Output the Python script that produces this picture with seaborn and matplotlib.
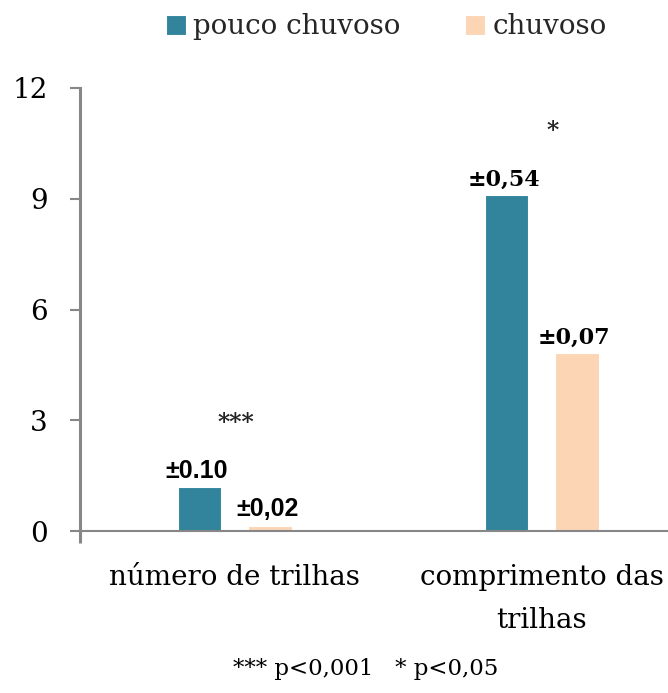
import matplotlib
matplotlib.use("Agg")
import matplotlib.pyplot as plt
import seaborn as sns
import pandas as pd

# ---- data ----
categories = ["número de trilhas", "comprimento das\ntrilhas"]
series = ["pouco chuvoso", "chuvoso"]
pouco_chuvoso = [1.18, 9.10]
chuvoso = [0.13, 4.82]
err_pouco = ["±0.10", "±0,54"]
err_chuvoso = ["±0,02", "±0,07"]
signif = ["***", "*"]
footnote = "*** p<0,001   * p<0,05"
yticks = [0, 3, 6, 9, 12]

colors = {"pouco chuvoso": "#31849B", "chuvoso": "#FCD5B5"}
gray = "#878787"

df = pd.DataFrame({
    "categoria": categories * 2,
    "periodo": [series[0]] * len(categories) + [series[1]] * len(categories),
    "valor": pouco_chuvoso + chuvoso,
})

sns.set_theme(style="white")
plt.rcParams["font.family"] = ["DejaVu Serif"]

fig = plt.figure(figsize=(6.68, 6.93), dpi=100)
ax = fig.add_axes([80 / 668, 1 - 531 / 693, 1 - 80 / 668, (531 - 88) / 693])

sns.barplot(data=df, x="categoria", y="valor", hue="periodo",
            order=categories, hue_order=series, palette=colors,
            saturation=1, width=0.46, gap=0.383, edgecolor="white",
            linewidth=0.8, ax=ax)

ax.set_xlim(-0.5045, 1.411)
ax.set_ylim(0, 12)
ax.set_yticks(yticks)
ax.set_yticklabels([str(t) for t in yticks])
ax.set_xlabel("")
ax.set_ylabel("")

for s in ["top", "right"]:
    ax.spines[s].set_visible(False)
ax.spines["left"].set_color(gray)
ax.spines["left"].set_linewidth(2.2)
ax.spines["bottom"].set_color(gray)
ax.spines["bottom"].set_linewidth(1.5)

ax.tick_params(axis="y", which="major", left=True, direction="out", length=7.2,
               width=1.5, color=gray, pad=16, labelsize=20, labelcolor="black")
ax.tick_params(axis="x", which="major", length=0, pad=24, labelsize=20,
               labelcolor="black")
ax.set_xticks([-0.5045], minor=True)
ax.tick_params(axis="x", which="minor", bottom=True, direction="out",
               length=8.5, width=2.2, color=gray)
for lbl in ax.get_xticklabels():
    lbl.set_linespacing(1.75)

# value labels (standard errors)
err_labels = [err_pouco, err_chuvoso]
label_fonts = ["Liberation Sans", "DejaVu Serif"]
label_sizes = [18, 16]
for ci, cont in enumerate(ax.containers):
    for bi, bar in enumerate(cont):
        xc = bar.get_x() + bar.get_width() / 2
        ax.annotate(err_labels[ci][bi], (xc, bar.get_height()),
                    xytext=(-2, 7), textcoords="offset points",
                    ha="center", va="baseline", fontsize=label_sizes[bi],
                    fontweight="bold", family=label_fonts[bi], color="black")

# significance markers
sig_dx = [1, 8]
for i, s in enumerate(signif):
    top = max(pouco_chuvoso[i], chuvoso[i])
    ax.annotate(s, (i, top), xytext=(sig_dx[i], 41), textcoords="offset points",
                ha="center", va="baseline", fontsize=17, fontweight="bold",
                color="#222222")

# legend
handles, labels = ax.get_legend_handles_labels()
if ax.get_legend() is not None:
    ax.get_legend().remove()
fig.legend(handles, labels, loc="center", bbox_to_anchor=(386 / 668, 1 - 27 / 693),
           ncol=2, frameon=False, fontsize=20, handlelength=0.72,
           handleheight=0.72, handletextpad=0.25, columnspacing=2.35,
           borderpad=0, borderaxespad=0)

fig.text(366 / 668, 1 - 675 / 693, footnote, ha="center", va="baseline",
         fontsize=16.5, color="black")

fig.savefig("out.png", dpi=100)
